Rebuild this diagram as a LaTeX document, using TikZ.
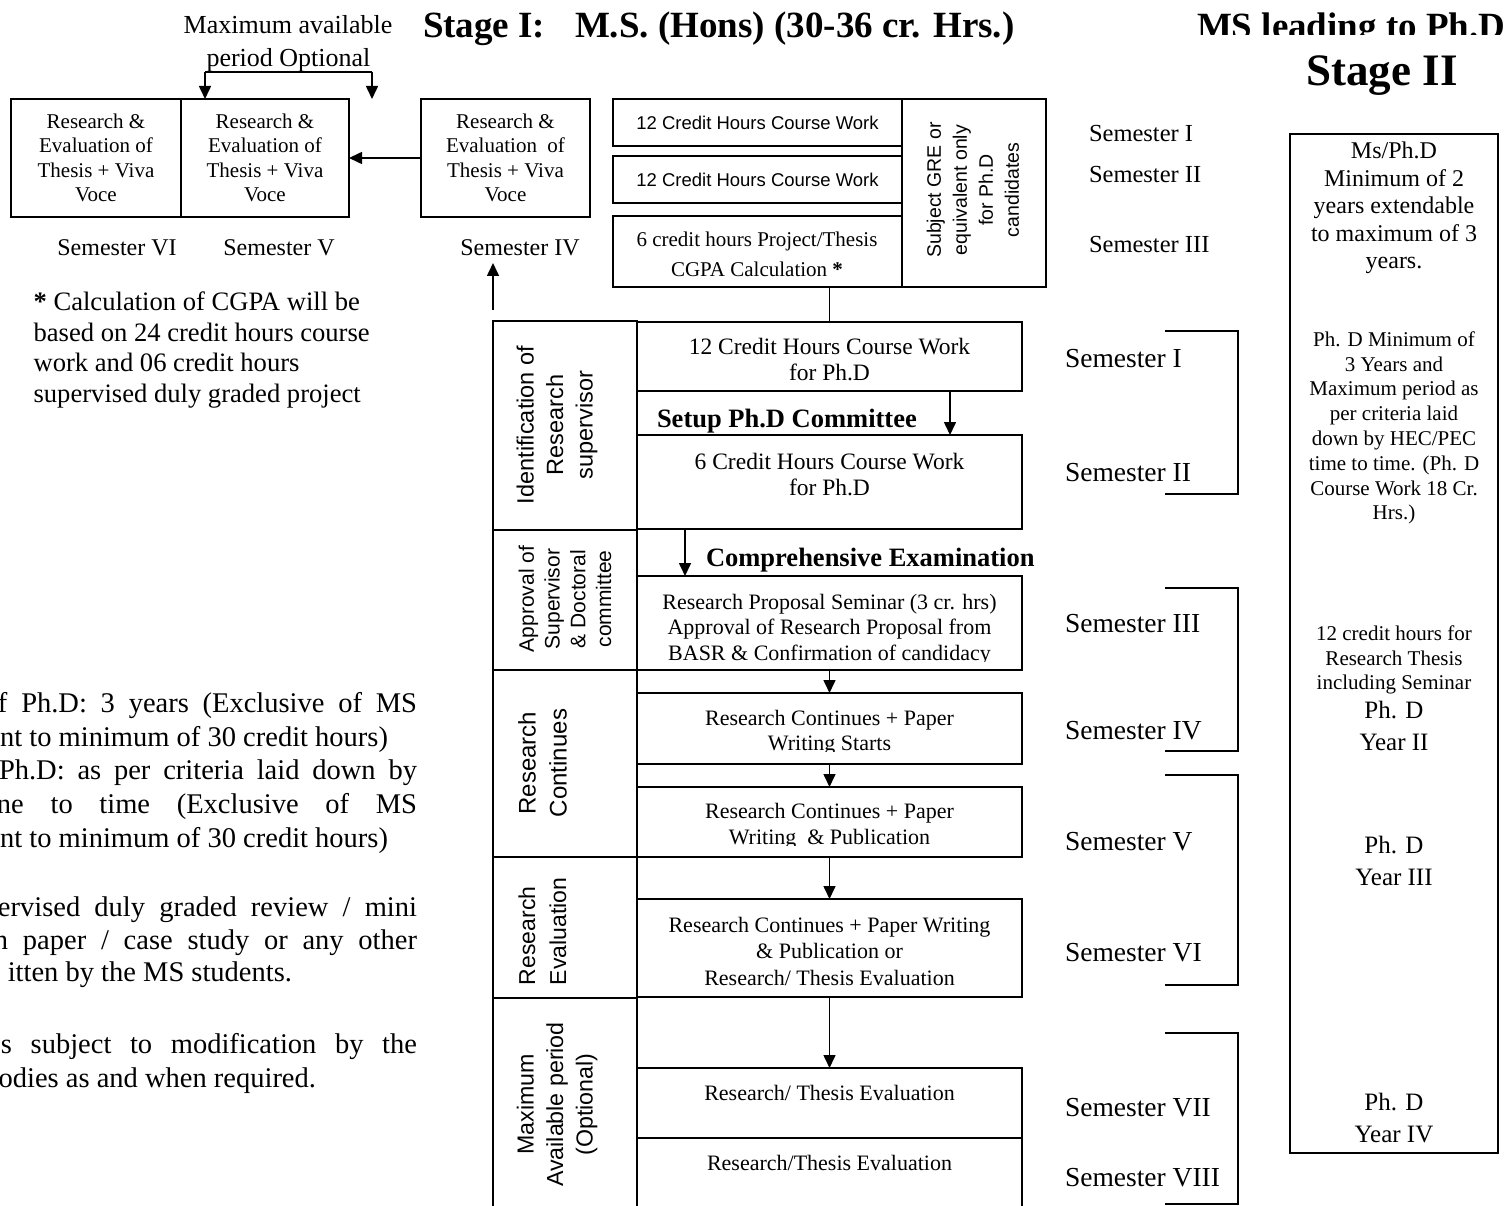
\documentclass[tikz,border=0pt]{standalone}
\usepackage{fontspec}
\setmainfont{Liberation Serif}
\newfontfamily\arialf{Liberation Sans}
\usetikzlibrary{arrows.meta}
\newcommand\myfs[2]{\fontsize{#1pt}{#2pt}\selectfont}
\begin{document}
\begin{tikzpicture}[x=1pt,y=-1pt,
  every node/.style={inner sep=0pt,outer sep=0pt},
  box/.style={draw,line width=1.6pt},
  arr/.style={line width=1.6pt,-{Triangle[length=13pt,width=12pt]}},
  brk/.style={line width=1.5pt},
  tb/.style={font=\myfs{21}{24.5},align=center},
  tc/.style={font=\myfs{23.5}{26},align=center},
  tp/.style={font=\myfs{22}{25.5},align=center},
  semS/.style={anchor=base west,font=\myfs{24.5}{28}},
  semL/.style={anchor=base west,font=\myfs{27.5}{30}},
  para/.style={anchor=base east,font=\myfs{28.5}{33.7}},
  boldl/.style={anchor=base west,font=\bfseries\myfs{26.5}{30}},
  sidel/.style={rotate=90,align=center,font=\arialf\myfs{23.5}{29.5}}]
\useasboundingbox (0,0) rectangle (1508,1206);
\clip (0,0) rectangle (1508,1206);

% ---------- titles ----------
\node[anchor=base,font=\myfs{26}{30}] (tmax) at (288,34) {Maximum available};
\node[anchor=base,font=\myfs{26}{30}] (tper) at (288.5,67) {period Optional};
\coordinate (u1) at (205,72);
\coordinate (u2) at (372,72);
\coordinate (u2e) at (372,99);
\draw[line width=1.2pt] (u1) -- (u2);
\node[anchor=base west,font=\bfseries\myfs{37}{40}] (st1) at (423,38) {Stage I:};
\node[anchor=base west,font=\bfseries\myfs{37}{40}] (st1b) at (575,38) {M.S. (Hons) (30-36 cr. Hrs.)};
\begin{scope}
  \clip (1150,0) rectangle (1508,35);
  \node[anchor=base west,font=\bfseries\myfs{37}{40}] (msphd) at (1197,39) {MS leading to Ph.D};
\end{scope}
\node[anchor=base,font=\bfseries\myfs{45}{50}] (st2) at (1382,86) {Stage II};

% ---------- top-left boxes ----------
\node[box,minimum width=170pt,minimum height=118pt] (b6) at (96,158) {};
\node[box,minimum width=168pt,minimum height=118pt] (b5) at (265,158) {};
\node[box,minimum width=169pt,minimum height=118pt] (b4) at (505.5,158) {};
\node[tb] (tb6) at (b6.center) {Research \&\\Evaluation of\\Thesis + Viva\\Voce};
\node[tb] (tb5) at (b5.center) {Research \&\\Evaluation of\\Thesis + Viva\\Voce};
\node[tb] (tb4) at (b4.center) {Research \&\\Evaluation\ \ of\\Thesis + Viva\\Voce};
\draw[arr] (u1) -- (u1 |- b5.north);
\draw[arr] (u2) -- (u2e);
\draw[arr] (b4.west) -- (b5.east);
\node[anchor=base,font=\myfs{24}{28}] (s6) at (117,256) {Semester VI};
\node[anchor=base,font=\myfs{24}{28}] (s5) at (279,256) {Semester V};
\node[anchor=base,font=\myfs{24}{28}] (s4) at (520,256) {Semester IV};
\coordinate (up0) at (493,310);
\coordinate (up1) at (493,263);
\draw[arr] (up0) -- (up1);

% note
\node[anchor=west,align=left,font=\myfs{26.6}{30.5}] (note) at (33.6,350) {\textbf{*} Calculation of CGPA will be\\based on 24 credit hours course\\work and 06 credit hours\\supervised duly graded project};

% ---------- top-middle boxes ----------
\node[box,minimum width=289pt,minimum height=47pt] (m1) at (757.5,122.5) {};
\node[box,minimum width=289pt,minimum height=47pt] (m2) at (757.5,179.5) {};
\node[box,minimum width=289pt,minimum height=71pt] (m3) at (757.5,251.5) {};
\node[box,minimum width=144pt,minimum height=188pt] (gre) at (974,193) {};
\node[font=\arialf\myfs{18.5}{21}] (tm1) at (m1.center) {12 Credit Hours Course Work};
\node[font=\arialf\myfs{18.5}{21}] (tm2) at (m2.center) {12 Credit Hours Course Work};
\node[anchor=base,font=\myfs{21}{24}] (tm3a) at (757,247) {6 credit hours Project/Thesis};
\node[anchor=base,font=\myfs{21}{24}] (tm3b) at (757,277) {CGPA Calculation \textbf{*}};
\node[rotate=90,align=center,font=\arialf\myfs{19.5}{26}] (tgre) at (973,190) {Subject GRE or\\equivalent only\\for Ph.D\\candidates};
\node[semS] (ts1) at (1089,142) {Semester I};
\node[semS] (ts2) at (1089,183) {Semester II};
\node[semS] (ts3) at (1089,252.5) {Semester III};

% ---------- left column ----------
\node[box,minimum width=144pt,minimum height=209pt] (c1) at (565,425.5) {};
\node[box,minimum width=144pt,minimum height=140pt] (c2) at (565,600) {};
\node[box,minimum width=144pt,minimum height=187pt] (c3) at (565,763.5) {};
\node[box,minimum width=144pt,minimum height=141pt] (c4) at (565,927.5) {};
\node[box,minimum width=144pt,minimum height=222pt] (c5) at (565,1109) {};
\node[sidel] (l1) at (557,425) {Identification of\\Research\\supervisor};
\node[sidel,font=\arialf\myfs{21}{25.7}] (l2) at (565,599) {Approval of\\Supervisor\\\& Doctoral\\committee};
\node[sidel,font=\arialf\myfs{24}{31}] (l3) at (542.5,763) {Research\\Continues};
\node[sidel,align=left,anchor=west,font=\arialf\myfs{23}{31}] (l4) at (542.5,985) {Research\\Evaluation};
\node[sidel,font=\arialf\myfs{23.2}{29.5}] (l5) at (557,1104.5) {Maximum\\Available period\\(Optional)};

% ---------- centre column ----------
\node[box,minimum width=385pt,minimum height=69pt] (p1) at (829.5,356.5) {};
\node[box,minimum width=385pt,minimum height=94pt] (p2) at (829.5,482) {};
\node[box,minimum width=385pt,minimum height=94pt] (p3) at (829.5,623) {};
\node[box,minimum width=385pt,minimum height=71pt] (p4) at (829.5,728.5) {};
\node[box,minimum width=385pt,minimum height=70pt] (p5) at (829.5,822) {};
\node[box,minimum width=385pt,minimum height=98pt] (p6) at (829.5,948) {};
\node[box,minimum width=385pt,minimum height=70pt] (p7) at (829.5,1103) {};
\node[box,minimum width=385pt,minimum height=82pt] (p8) at (829.5,1179) {};
\draw[line width=1.6pt] (m3.south -| p1.north) -- (p1.north);
\node[tc] (tp1) at (829.5,360) {12 Credit Hours Course Work\\for Ph.D};
\node[tc] (tp2) at (829.5,475) {6 Credit Hours Course Work\\for Ph.D};
\begin{scope}
  \clip (637,576) rectangle (1022,661);
  \node[tp] (tp3) at (829.5,629.5) {Research Proposal Seminar (3 cr. hrs)\\ Approval of Research Proposal from\\BASR \& Confirmation of candidacy};
\end{scope}
\begin{scope}
  \clip (637,693) rectangle (1022,751);
  \node[tp,font=\myfs{22}{25}] (tp4) at (829.5,732.4) {Research Continues + Paper\\Writing Starts};
\end{scope}
\begin{scope}
  \clip (637,787) rectangle (1022,845.5);
  \node[tp,font=\myfs{22}{26}] (tp5) at (829.5,826.4) {Research Continues + Paper\\Writing\ \ \& Publication};
\end{scope}
\node[tp,font=\myfs{22}{26.5}] (tp6) at (829.5,951) {Research Continues + Paper Writing\\\& Publication or\\Research/ Thesis Evaluation};
\node[anchor=base,font=\myfs{22}{25}] (tp7) at (829.5,1100) {Research/ Thesis Evaluation};
\node[anchor=base,font=\myfs{22}{25}] (tp8) at (829.5,1170) {Research/Thesis Evaluation};
\node[boldl] (setup) at (657,427) {Setup Ph.D Committee};
\node[boldl] (comp) at (706,566) {Comprehensive Examination};
\coordinate (a1) at (950,391);
\coordinate (a2) at (685,530);
\draw[arr] (a1) -- (a1 |- p2.north);
\draw[arr] (a2) -- (a2 |- p3.north);
\draw[arr] (p3.south) -- (p4.north);
\draw[arr] (p4.south) -- (p5.north);
\draw[arr] (p5.south) -- (p6.north);
\draw[arr] (p6.south) -- (p7.north);

% ---------- right semesters and brackets ----------
\coordinate (k1a) at (1165,331);  \coordinate (k1b) at (1165,494);
\coordinate (k2a) at (1165,588);  \coordinate (k2b) at (1165,751);
\coordinate (k3a) at (1165,775);  \coordinate (k3b) at (1165,985);
\coordinate (k4a) at (1165,1033); \coordinate (k4b) at (1165,1204);
\draw[brk] (k1a) -- ++(73,0) |- (k1b);
\draw[brk] (k2a) -- ++(73,0) |- (k2b);
\draw[brk] (k3a) -- ++(73,0) |- (k3b);
\draw[brk] (k4a) -- ++(73,0) |- (k4b);
\node[semL] (r1) at (1065,367) {Semester I};
\node[semL] (r2) at (1065,481) {Semester II};
\node[semL] (r3) at (1065,632) {Semester III};
\node[semL] (r4) at (1065,739) {Semester IV};
\node[semL] (r5) at (1065,850) {Semester V};
\node[semL] (r6) at (1065,961) {Semester VI};
\node[semL] (r7) at (1065,1116) {Semester VII};
\node[semL] (r8) at (1065,1186) {Semester VIII};

% ---------- stage II box ----------
\node[draw,line width=2.6pt,minimum width=208pt,minimum height=1019pt] (rb) at (1394,643.5) {};
\node[align=center,font=\myfs{24}{27.5}] (rt1) at (1394,208) {Ms/Ph.D\\Minimum of 2\\years extendable\\to maximum of 3\\years.};
\node[align=center,font=\myfs{21}{24.8}] (rt2) at (1394,428) {Ph. D Minimum of\\3 Years and\\Maximum period as\\per criteria laid\\down by HEC/PEC\\time to time. (Ph. D\\Course Work 18 Cr.\\Hrs.)};
\node[align=center,font=\myfs{21}{24.5}] (rt3) at (1394,660) {12 credit hours for\\Research Thesis\\including Seminar};
\node[align=center,font=\myfs{25}{32}] (rt4) at (1394,726) {Ph. D\\Year II};
\node[align=center,font=\myfs{25}{32}] (rt5) at (1394,860.5) {Ph. D\\Year III};
\node[align=center,font=\myfs{25}{32}] (rt6) at (1394,1118.5) {Ph. D\\Year IV};

% ---------- cropped left paragraph ----------
\node[para] (q1) at (417,712) {\makebox[419pt][s]{f Ph.D: 3 years (Exclusive of MS}};
\node[para] (q2) at (388,746) {nt to minimum of 30 credit hours)};
\node[para] (q3) at (417,779) {\makebox[418pt][s]{Ph.D: as per criteria laid down by}};
\node[para] (q4) at (417,813) {\makebox[420pt][s]{ne to time (Exclusive of MS}};
\node[para] (q5) at (388,847) {nt to minimum of 30 credit hours)};
\node[para] (q7) at (417,916) {\makebox[419pt][s]{ervised duly graded review / mini}};
\node[para] (q8) at (417,949) {\makebox[423pt][s]{n paper / case study or any other}};
\node[para] (q9) at (292,981) {itten by the MS students.};
\node[para] (q11) at (417,1053) {\makebox[416pt][s]{s subject to modification by the}};
\node[para] (q12) at (316,1087) {odies as and when required.};
\end{tikzpicture}
\end{document}
